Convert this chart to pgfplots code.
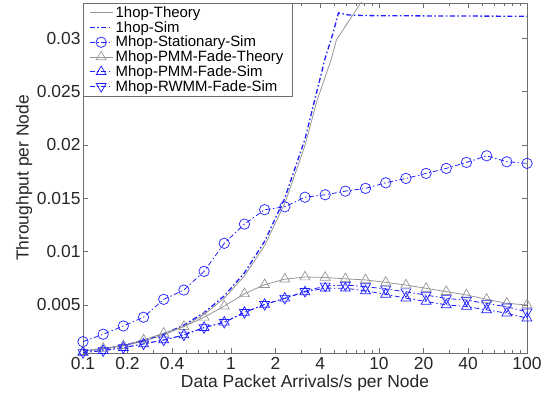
\documentclass[border=0pt]{standalone}
\usepackage{fontspec}
\setmainfont{Liberation Sans}
\usepackage{pgfplots}
\pgfplotsset{compat=1.18}
\definecolor{mgray}{RGB}{150,150,150}
\definecolor{mblue}{RGB}{30,30,255}
\definecolor{frame}{RGB}{110,110,110}

% sample points: 0.1 * 10^(3k/22), k = 0..22
\pgfplotstableread{
x        stat     pmmth    pmmsim   rwmmsim
0.1      0.00156  0.00063  0.00055  0.00055
0.1369   0.00226  0.00094  0.00072  0.00072
0.1874   0.00303  0.00119  0.00100  0.00100
0.2565   0.00385  0.00172  0.00135  0.00135
0.3511   0.00553  0.00235  0.00172  0.00172
0.4806   0.00640  0.00297  0.00219  0.00219
0.6579   0.00815  0.00385  0.00288  0.00288
0.9006   0.01078  0.00490  0.00338  0.00338
1.2328   0.01258  0.00605  0.00430  0.00430
1.6876   0.01393  0.00690  0.00505  0.00505
2.3101   0.01420  0.00742  0.00563  0.00563
3.1623   0.01510  0.00762  0.00622  0.00628
4.3288   0.01533  0.00758  0.00658  0.00678
5.9256   0.01567  0.00745  0.00657  0.00687
8.1113   0.01593  0.00735  0.00632  0.00672
11.103   0.01645  0.00712  0.00600  0.00650
15.199   0.01686  0.00687  0.00564  0.00624
20.806   0.01733  0.00656  0.00533  0.00593
28.480   0.01780  0.00625  0.00501  0.00561
38.986   0.01836  0.00594  0.00486  0.00546
53.367   0.01898  0.00553  0.00454  0.00514
73.053   0.01842  0.00516  0.00423  0.00483
100      0.01827  0.00500  0.00376  0.00436
}\mhop

\begin{document}
\begin{tikzpicture}
\begin{axis}[
  name=ax, scale only axis, width=444bp, height=350bp,
  xmode=log, xmin=0.1, xmax=100, ymin=0.0005, ymax=0.0333,
  xtick={0.1,0.2,0.4,1,2,4,10,20,40,100},
  xticklabels={0.1,0.2,0.4,1,2,4,10,20,40,100},
  minor xtick={0.3,0.5,0.6,0.7,0.8,0.9,3,5,6,7,8,9,30,50,60,70,80,90},
  ytick={0.005,0.01,0.015,0.02,0.025,0.03},
  yticklabels={0.005,0.01,0.015,0.02,0.025,0.03},
  tick align=inside, major tick length=5bp, minor tick length=3bp,
  every tick/.style={frame}, axis line style={frame},
  /pgf/number format/assume math mode=true,
  tick label style={font=\fontsize{17.5}{20}\selectfont, text=black!85},
  xticklabel style={yshift=-1bp},
  yticklabel style={xshift=1bp},
  label style={font=\fontsize{17.5}{20}\selectfont, text=black!85},
  xlabel={Data Packet Arrivals/s per Node},
  ylabel={Throughput per Node},
  xlabel style={at={(axis description cs:0.5,0)}, anchor=center, yshift=-30bp},
  ylabel style={at={(axis description cs:0,0.5)}, anchor=center, yshift=59bp},
  legend style={at={(0,1)}, anchor=north west, draw=frame, fill=white,
    font=\fontsize{15}{16}\selectfont, inner xsep=6bp, inner ysep=1.5bp, row sep=-1.6bp,
    cells={anchor=west}, nodes={inner xsep=2.5bp}},
  legend image code/.code={\draw[mark repeat=2, mark phase=2]
    plot coordinates {(0cm,0cm) (0.4cm,0cm) (0.8cm,0cm)};},
  mark size=5.2bp,
]
\addplot[mgray, line width=0.8bp] coordinates {
  (0.1,0.00068)(0.1369,0.00087)(0.1874,0.00117)(0.2565,0.00160)(0.3511,0.00219)
  (0.4806,0.00300)(0.6579,0.00411)(0.9006,0.00563)(1.2328,0.00772)(1.6876,0.01058)
  (2.3101,0.01452)(3.1623,0.01995)(3.80,0.02410)(4.75,0.02800)(5.16,0.02985)
  (7.6,0.03340)(10,0.0362)(100,0.040)};
\addlegendentry{1hop-Theory}
\addplot[mblue, line width=1.3bp, dash pattern=on 5bp off 2.5bp on 1.5bp off 2.5bp] coordinates {
  (0.1,0.00070)(0.1369,0.00089)(0.1874,0.00122)(0.2565,0.00167)(0.3511,0.00228)
  (0.4806,0.00312)(0.6579,0.00428)(0.9006,0.00585)(1.2328,0.00801)(1.6876,0.01097)
  (2.3101,0.01502)(3.1623,0.02055)(4.3288,0.02814)(4.9,0.0305)(5.32,0.03237)
  (6.2,0.03218)(8.1113,0.03212)(15.199,0.03210)(28.480,0.03208)(53.367,0.03207)(100,0.03206)};
\addlegendentry{1hop-Sim}
\addplot[mblue, line width=0.8bp, dash pattern=on 5bp off 2.5bp on 1.5bp off 2.5bp,
  mark=o, mark options={solid, line width=0.7bp}] table[x=x, y=stat] {\mhop};
\addlegendentry{Mhop-Stationary-Sim}
\addplot[mgray, line width=0.8bp, mark=triangle, mark options={solid, line width=0.7bp, scale=1.1}]
  table[x=x, y=pmmth] {\mhop};
\addlegendentry{Mhop-PMM-Fade-Theory}
\addplot[mblue, line width=0.8bp, dash pattern=on 5bp off 2.5bp on 1.5bp off 2.5bp,
  mark=triangle, mark options={solid, line width=0.7bp, scale=1.1}] table[x=x, y=pmmsim] {\mhop};
\addlegendentry{Mhop-PMM-Fade-Sim}
\addplot[mblue, line width=0.8bp, dash pattern=on 5bp off 2.5bp on 1.5bp off 2.5bp,
  mark=triangle, mark options={solid, line width=0.7bp, scale=1.1, rotate=180}] table[x=x, y=rwmmsim] {\mhop};
\addlegendentry{Mhop-RWMM-Fade-Sim}
\end{axis}
\pgfresetboundingbox
\path[use as bounding box] ([xshift=-83bp,yshift=-48bp]ax.south west)
  rectangle ([xshift=21bp,yshift=3bp]ax.north east);
\end{tikzpicture}
\end{document}
